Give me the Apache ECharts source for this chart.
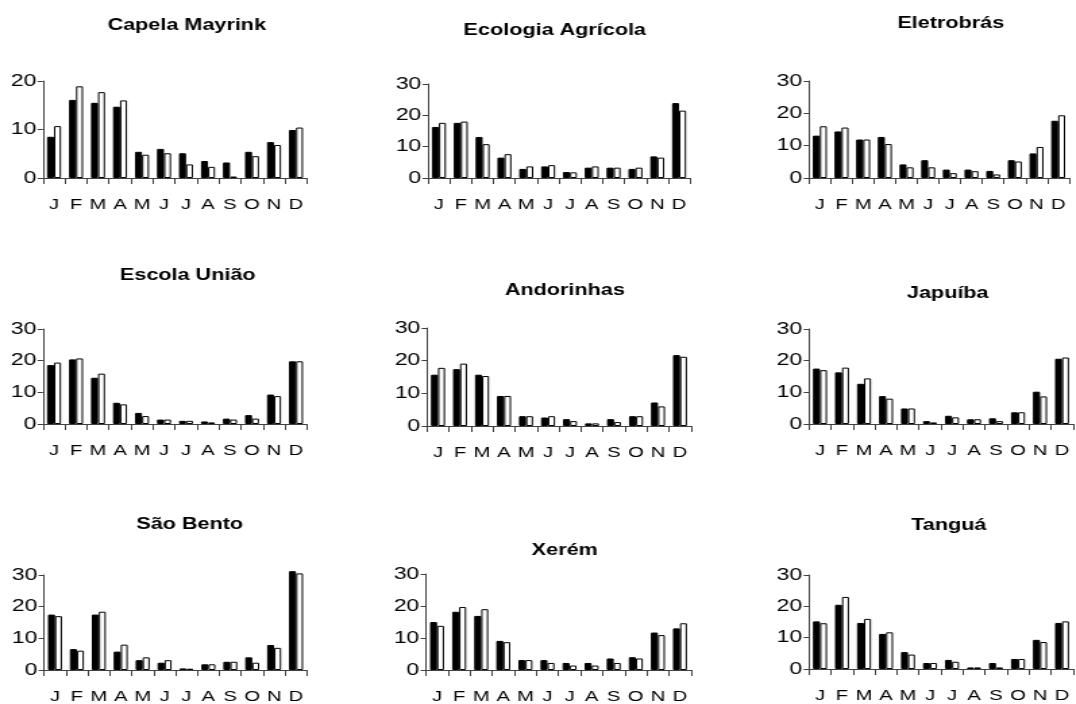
<!DOCTYPE html>
<html>
<head>
<meta charset="utf-8">
<script src="https://cdn.jsdelivr.net/npm/echarts@6/dist/echarts.min.js"></script>
<style>
  html, body { margin: 0; padding: 0; background: #ffffff; overflow: hidden; }
  #wrap { width: 1076px; height: 704px; overflow: hidden; }
  /* the drawing is laid out narrower and widened horizontally */
  #chart { height: 704px; transform-origin: 0 0; }
</style>
</head>
<body>
<div id="wrap"><div id="chart"></div></div>
<script>
// Monthly values for nine stations, two series each (filled and open bars)
const months = ['J', 'F', 'M', 'A', 'M', 'J', 'J', 'A', 'S', 'O', 'N', 'D'];
const stationNames = ['Capela Mayrink', 'Ecologia Agrícola', 'Eletrobrás',
                      'Escola União', 'Andorinhas', 'Japuíba',
                      'São Bento', 'Xerém', 'Tanguá'];
const yTicksMax = [20, 30, 30, 30, 30, 30, 30, 30, 30];

const capelaMayrinkA    = [8.5, 16.1, 15.5, 14.7, 5.4, 6.0, 5.1, 3.5, 3.2, 5.4, 7.4, 9.9];
const capelaMayrinkB    = [10.7, 18.9, 17.7, 16.0, 4.8, 5.1, 2.8, 2.3, 0.3, 4.5, 6.8, 10.4];
const ecologiaAgricolaA = [16.3, 17.6, 13.1, 6.5, 2.9, 3.7, 1.9, 3.3, 3.3, 2.9, 6.9, 23.9];
const ecologiaAgricolaB = [17.6, 18.0, 10.8, 7.6, 3.7, 4.1, 1.8, 3.7, 3.3, 3.3, 6.5, 21.5];
const eletrobrasA       = [13.1, 14.4, 11.9, 12.7, 4.2, 5.5, 2.6, 2.6, 2.2, 5.5, 7.6, 17.7];
const eletrobrasB       = [16.0, 15.6, 11.9, 10.5, 3.3, 3.3, 1.5, 2.1, 1.1, 5.1, 9.6, 19.4];
const escolaUniaoA      = [18.6, 20.4, 14.6, 6.7, 3.5, 1.4, 1.0, 0.8, 1.7, 2.8, 9.3, 19.8];
const escolaUniaoB      = [19.4, 20.7, 15.9, 6.2, 2.5, 1.4, 1.0, 0.5, 1.4, 1.7, 8.8, 19.8];
const andorinhasA       = [15.7, 17.4, 15.7, 9.2, 3.0, 2.6, 2.1, 0.8, 2.1, 3.0, 7.2, 21.7];
const andorinhasB       = [17.8, 19.1, 15.3, 9.2, 3.0, 3.0, 1.5, 0.8, 1.2, 3.0, 6.0, 21.2];
const japuibaA          = [17.5, 16.3, 12.7, 8.8, 4.9, 0.9, 2.6, 1.5, 1.8, 3.7, 10.2, 20.6];
const japuibaB          = [17.0, 17.8, 14.4, 8.0, 4.9, 0.5, 2.1, 1.5, 0.9, 3.7, 8.7, 21.0];
const saoBentoA         = [17.5, 6.6, 17.5, 5.8, 3.1, 2.3, 0.5, 1.8, 2.6, 4.0, 7.9, 31.2];
const saoBentoB         = [17.0, 6.1, 18.4, 8.0, 4.0, 3.1, 0.4, 1.8, 2.6, 2.3, 7.0, 30.5];
const xeremA            = [15.0, 18.2, 16.9, 9.1, 3.1, 3.1, 2.2, 2.2, 3.6, 4.0, 11.7, 13.0];
const xeremB            = [13.8, 19.7, 19.0, 8.7, 3.1, 2.2, 1.4, 1.4, 2.2, 3.6, 10.9, 14.6];
const tanguaA           = [15.2, 20.5, 14.7, 11.2, 5.4, 1.9, 2.9, 0.5, 1.9, 3.2, 9.3, 14.7];
const tanguaB           = [14.6, 23.0, 16.0, 11.7, 4.6, 1.9, 2.3, 0.5, 0.5, 3.2, 8.6, 15.2];

const seriesA = [capelaMayrinkA, ecologiaAgricolaA, eletrobrasA, escolaUniaoA, andorinhasA,
                 japuibaA, saoBentoA, xeremA, tanguaA];
const seriesB = [capelaMayrinkB, ecologiaAgricolaB, eletrobrasB, escolaUniaoB, andorinhasB,
                 japuibaB, saoBentoB, xeremB, tanguaB];

// Horizontal widening of the whole drawing
const SX = 1.35;
const W = 1076, H = 704;

// Panel placement in page pixels (plot area of each small chart, and its title)
const panels = [
  { left: 43,  top: 81,  width: 264, height: 97, tx: 180, ty: 13 },
  { left: 428, top: 84,  width: 262, height: 94, tx: 548, ty: 18 },
  { left: 809, top: 81,  width: 260, height: 97, tx: 944, ty: 11 },
  { left: 43,  top: 329, width: 264, height: 95, tx: 181, ty: 263 },
  { left: 427, top: 328, width: 264, height: 98, tx: 558, ty: 278 },
  { left: 809, top: 329, width: 264, height: 95, tx: 941, ty: 281 },
  { left: 44,  top: 575, width: 263, height: 95, tx: 183, ty: 512 },
  { left: 426, top: 574, width: 265, height: 96, tx: 558, ty: 538 },
  { left: 809, top: 575, width: 264, height: 94, tx: 942, ty: 513 }
];

const FONT = '"Liberation Sans", Arial, Helvetica, sans-serif';
const AXIS_COLOR = '#404040';

const el = document.getElementById('chart');
el.style.width = (W / SX) + 'px';
el.style.transform = 'scaleX(' + SX + ')';

const option = {
  backgroundColor: '#ffffff',
  animation: false,
  title: [],
  grid: [],
  xAxis: [],
  yAxis: [],
  series: []
};

panels.forEach((p, i) => {
  option.title.push({
    text: stationNames[i],
    left: p.tx / SX,
    top: p.ty,
    textAlign: 'center',
    textStyle: { fontFamily: FONT, fontSize: 16, fontWeight: 'bold', color: '#000000' }
  });
  option.grid.push({
    left: p.left / SX, top: p.top, width: p.width / SX, height: p.height, containLabel: false
  });
  option.xAxis.push({
    type: 'category',
    gridIndex: i,
    data: months,
    boundaryGap: true,
    axisLine: { show: true, lineStyle: { color: AXIS_COLOR, width: 1 } },
    axisTick: { show: true, length: 6, alignWithLabel: false, interval: 0, lineStyle: { color: AXIS_COLOR } },
    axisLabel: { interval: 0, margin: 19, fontFamily: FONT, fontSize: 15, color: '#000000' },
    splitLine: { show: false }
  });
  option.yAxis.push({
    type: 'value',
    gridIndex: i,
    min: 0,
    max: yTicksMax[i],
    interval: 10,
    axisLine: { show: true, lineStyle: { color: AXIS_COLOR, width: 1 } },
    axisTick: { show: true, length: 4, lineStyle: { color: AXIS_COLOR } },
    axisLabel: { margin: 5, fontFamily: FONT, fontSize: 17, color: '#000000' },
    splitLine: { show: false }
  });
  option.series.push({
    type: 'bar',
    xAxisIndex: i,
    yAxisIndex: i,
    data: seriesA[i],
    barWidth: 7 / SX,
    barGap: '0%',
    clip: false,
    itemStyle: { color: '#000000', borderColor: '#000000', borderWidth: 1 }
  });
  option.series.push({
    type: 'bar',
    xAxisIndex: i,
    yAxisIndex: i,
    data: seriesB[i],
    barWidth: 7 / SX,
    barGap: '0%',
    clip: false,
    itemStyle: { color: '#ffffff', borderColor: '#000000', borderWidth: 1 }
  });
});

const chart = echarts.init(el, null, { renderer: 'canvas', width: W / SX, height: H });
chart.setOption(option);
</script>
</body>
</html>
